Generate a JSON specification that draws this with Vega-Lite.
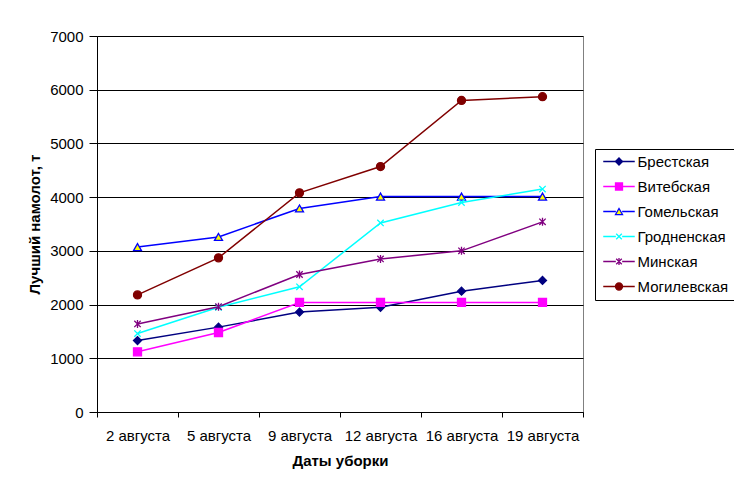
{
  "$schema": "https://vega.github.io/schema/vega-lite/v6.json",
  "width": 486,
  "height": 376,
  "autosize": {"type": "none"},
  "padding": {"left": 97, "top": 36, "right": 151, "bottom": 74},
  "background": "white",
  "config": {
    "font": "Liberation Sans",
    "view": {"stroke": "#808080", "strokeWidth": 1}
  },
  "data": {
    "values": [
      {"date": "2 августа", "region": "Брестская", "value": 1330},
      {"date": "5 августа", "region": "Брестская", "value": 1580},
      {"date": "9 августа", "region": "Брестская", "value": 1860},
      {"date": "12 августа", "region": "Брестская", "value": 1950},
      {"date": "16 августа", "region": "Брестская", "value": 2250},
      {"date": "19 августа", "region": "Брестская", "value": 2450},
      {"date": "2 августа", "region": "Витебская", "value": 1120},
      {"date": "5 августа", "region": "Витебская", "value": 1480},
      {"date": "9 августа", "region": "Витебская", "value": 2040},
      {"date": "12 августа", "region": "Витебская", "value": 2040},
      {"date": "16 августа", "region": "Витебская", "value": 2040},
      {"date": "19 августа", "region": "Витебская", "value": 2040},
      {"date": "2 августа", "region": "Гомельская", "value": 3070},
      {"date": "5 августа", "region": "Гомельская", "value": 3260},
      {"date": "9 августа", "region": "Гомельская", "value": 3790},
      {"date": "12 августа", "region": "Гомельская", "value": 4010},
      {"date": "16 августа", "region": "Гомельская", "value": 4010},
      {"date": "19 августа", "region": "Гомельская", "value": 4010},
      {"date": "2 августа", "region": "Гродненская", "value": 1460},
      {"date": "5 августа", "region": "Гродненская", "value": 1950},
      {"date": "9 августа", "region": "Гродненская", "value": 2330},
      {"date": "12 августа", "region": "Гродненская", "value": 3520},
      {"date": "16 августа", "region": "Гродненская", "value": 3900},
      {"date": "19 августа", "region": "Гродненская", "value": 4150},
      {"date": "2 августа", "region": "Минская", "value": 1640},
      {"date": "5 августа", "region": "Минская", "value": 1960},
      {"date": "9 августа", "region": "Минская", "value": 2560},
      {"date": "12 августа", "region": "Минская", "value": 2850},
      {"date": "16 августа", "region": "Минская", "value": 3000},
      {"date": "19 августа", "region": "Минская", "value": 3540},
      {"date": "2 августа", "region": "Могилевская", "value": 2180},
      {"date": "5 августа", "region": "Могилевская", "value": 2870},
      {"date": "9 августа", "region": "Могилевская", "value": 4080},
      {"date": "12 августа", "region": "Могилевская", "value": 4570},
      {"date": "16 августа", "region": "Могилевская", "value": 5800},
      {"date": "19 августа", "region": "Могилевская", "value": 5870}
    ]
  },
  "encoding": {
    "x": {
      "field": "date",
      "type": "nominal",
      "sort": null,
      "scale": {"type": "band", "paddingInner": 0, "paddingOuter": 0},
      "axis": {
        "title": "Даты уборки",
        "labelAngle": 0,
        "tickBand": "extent",
        "grid": false,
        "labelFont": "Liberation Sans",
        "titleFont": "Liberation Sans",
        "labelFontSize": 15,
        "titleFontSize": 15,
        "titleFontWeight": "bold",
        "labelColor": "#000000",
        "titleColor": "#000000",
        "domainColor": "#000000",
        "tickColor": "#000000",
        "tickSize": 5,
        "labelPadding": 11,
        "titlePadding": 10
      }
    },
    "y": {
      "field": "value",
      "type": "quantitative",
      "scale": {"domain": [0, 7000], "nice": false},
      "axis": {
        "title": "Лучший намолот, т",
        "values": [0, 1000, 2000, 3000, 4000, 5000, 6000, 7000],
        "format": "d",
        "grid": true,
        "gridColor": "#000000",
        "gridWidth": 1,
        "labelFont": "Liberation Sans",
        "titleFont": "Liberation Sans",
        "labelFontSize": 15,
        "titleFontSize": 15,
        "titleFontWeight": "bold",
        "labelColor": "#000000",
        "titleColor": "#000000",
        "domainColor": "#000000",
        "tickColor": "#000000",
        "tickSize": 8,
        "labelPadding": 6,
        "titlePadding": 7
      }
    }
  },
  "layer": [
    {
      "mark": {"type": "line", "strokeWidth": 1.5},
      "encoding": {
        "stroke": {
          "field": "region",
          "type": "nominal",
          "scale": {
            "domain": ["Брестская", "Витебская", "Гомельская", "Гродненская", "Минская", "Могилевская"],
            "range": ["#000080", "#FF00FF", "#0000FF", "#00FFFF", "#800080", "#800000"]
          },
          "legend": {
            "title": null,
            "orient": "none",
            "legendX": 498,
            "legendY": 113,
            "strokeColor": "#000000",
            "padding": 5,
            "symbolType": "M-4.5,0H-0.9M0.9,0H4.5",
            "symbolSize": 49,
            "symbolStrokeWidth": 1.5,
            "symbolOffset": 11.5,
            "labelFont": "Liberation Sans",
            "labelFontSize": 15,
            "labelColor": "#000000",
            "labelOffset": 11,
            "rowPadding": 9
          }
        }
      }
    },
    {
      "mark": {"type": "point", "size": 64, "strokeWidth": 1.3, "opacity": 1},
      "encoding": {
        "color": {
          "field": "region",
          "type": "nominal",
          "scale": {
            "range": ["#000080", "#FF00FF", "#0000FF", "#00FFFF", "#800080", "#800000"]
          },
          "legend": {
            "title": null,
            "orient": "none",
            "legendX": 498,
            "legendY": 113,
            "padding": 5,
            "symbolSize": 49,
            "symbolStrokeWidth": 1.3,
            "symbolOffset": 11.5,
            "labelFont": "Liberation Sans",
            "labelFontSize": 15,
            "labelOpacity": 0,
            "labelOffset": 11,
            "rowPadding": 9
          }
        },
        "shape": {
          "field": "region",
          "type": "nominal",
          "scale": {
            "range": [
              "diamond",
              "square",
              "triangle-up",
              "M-0.8,-0.8L0.8,0.8M-0.8,0.8L0.8,-0.8",
              "M-0.8,-0.8L0.8,0.8M-0.8,0.8L0.8,-0.8M0,-1V1",
              "circle"
            ]
          }
        },
        "fill": {
          "field": "region",
          "type": "nominal",
          "scale": {
            "range": ["#000080", "#FF00FF", "#FFFF00", "transparent", "transparent", "#800000"]
          }
        }
      }
    }
  ]
}
